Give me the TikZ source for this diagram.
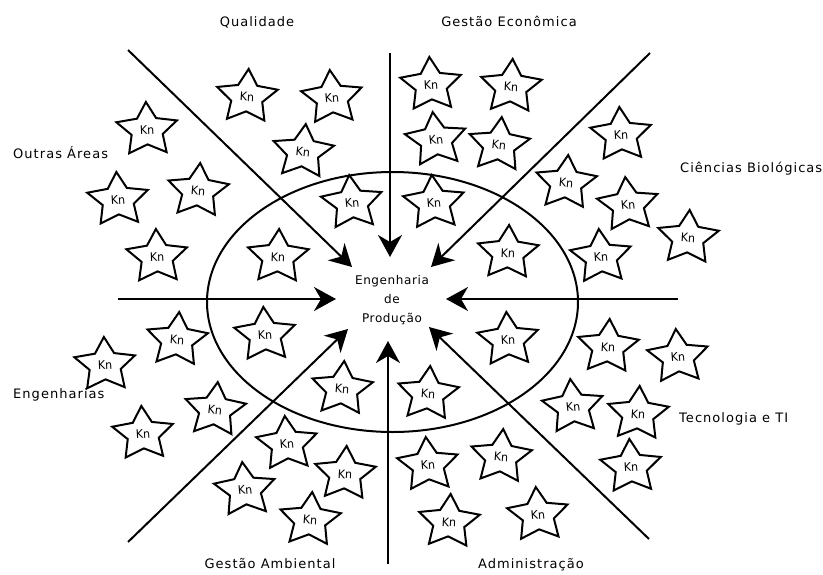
\documentclass[tikz,border=0pt]{standalone}
\usepackage{fontspec}
\setmainfont{DejaVu Sans}
\usetikzlibrary{arrows.meta,shapes.geometric}
\begin{document}
\begin{tikzpicture}[x=1pt,y=-1pt,
  kn/.style={draw,line width=2pt,shape=star,star points=5,star point ratio=1.95,
    minimum size=59pt,inner sep=0pt,xscale=1.08,yscale=0.95,
    font=\fontsize{12.5}{14}\selectfont\addfontfeature{FakeStretch=0.82}},
  lab/.style={font=\fontsize{13}{15}\selectfont\addfontfeature{LetterSpace=8},
    inner sep=0pt,text height=9.5pt,text depth=2.5pt},
  arr/.style={line width=2pt,-{Stealth[length=22pt,width=24pt,inset=7pt]}},
  ring/.style={draw,line width=2pt,shape=ellipse,inner sep=0pt}
]
\useasboundingbox (0,0) rectangle (823,574);

% central ellipse
\node[ring,minimum width=371pt,minimum height=260pt] (ring) at (392.5,302) {};

% centre text
\node[align=center,font=\fontsize{12}{19}\selectfont\addfontfeature{LetterSpace=5},inner sep=0pt] (ep) at (392,300) {Engenharia\\de\\Produção};

% area labels
\node[lab] (qual) at (257,23) {Qualidade};
\node[lab] (gecon) at (509,23) {Gestão Econômica};
\node[lab,anchor=west] (outras) at (13,155) {Outras Áreas};
\node[lab,anchor=west] (bio) at (680,169) {Ciências Biológicas};
\node[lab,anchor=west] (eng) at (13,395) {Engenharias};
\node[lab,anchor=west] (tec) at (679,419) {Tecnologia e TI};
\node[lab] (gamb) at (270,565) {Gestão Ambiental};
\node[lab] (adm) at (531,565) {Administração};

% arrow end points
\coordinate (a1s) at (128,50);  \coordinate (a1e) at (352,267);
\coordinate (a2s) at (390,53);  \coordinate (a2e) at (390,257);
\coordinate (a3s) at (650,53);  \coordinate (a3e) at (431,267);
\coordinate (a4s) at (118,299); \coordinate (a4e) at (336,299);
\coordinate (a5s) at (678,299); \coordinate (a5e) at (446,299);
\coordinate (a6s) at (128,542); \coordinate (a6e) at (348,329);
\coordinate (a7s) at (388,564); \coordinate (a7e) at (388,341);
\coordinate (a8s) at (649,539); \coordinate (a8e) at (429,327);
\foreach \i in {1,...,8} { \draw[arr] (a\i s) -- (a\i e); }

% knowledge stars
\node[kn,rotate=2]  (s1)  at (147,130) {Kn};
\node[kn,rotate=-3] (s2)  at (247,97)  {Kn};
\node[kn,rotate=4]  (s3)  at (332,98)  {Kn};
\node[kn,rotate=-5] (s4)  at (303,152) {Kn};
\node[kn,rotate=3]  (s5)  at (118,200) {Kn};
\node[kn,rotate=-4] (s6)  at (198,191) {Kn};
\node[kn,rotate=2]  (s7)  at (157,257) {Kn};
\node[kn,rotate=-2] (s8)  at (278,257) {Kn};
\node[kn,rotate=5]  (s9)  at (352,203) {Kn};
\node[kn,rotate=3]  (s10) at (431,85)  {Kn};
\node[kn,rotate=-3] (s11) at (511,87)  {Kn};
\node[kn,rotate=6]  (s12) at (436,140) {Kn};
\node[kn,rotate=-5] (s13) at (499,145) {Kn};
\node[kn,rotate=4]  (s14) at (434,203) {Kn};
\node[kn,rotate=-2] (s15) at (508,253) {Kn};
\node[kn,rotate=3]  (s16) at (621,135) {Kn};
\node[kn,rotate=-4] (s17) at (566,183) {Kn};
\node[kn,rotate=5]  (s18) at (628,205) {Kn};
\node[kn,rotate=-3] (s19) at (688,238) {Kn};
\node[kn,rotate=4]  (s20) at (601,257) {Kn};
\node[kn,rotate=-4] (s21) at (177,340) {Kn};
\node[kn,rotate=3]  (s22) at (265,335) {Kn};
\node[kn,rotate=2]  (s23) at (105,365) {Kn};
\node[kn,rotate=-5] (s24) at (215,410) {Kn};
\node[kn,rotate=3]  (s25) at (143,434) {Kn};
\node[kn,rotate=-4] (s26) at (342,389) {Kn};
\node[kn,rotate=4]  (s27) at (287,444) {Kn};
\node[kn,rotate=-3] (s28) at (345,474) {Kn};
\node[kn,rotate=5]  (s29) at (245,490) {Kn};
\node[kn,rotate=-4] (s30) at (310,520) {Kn};
\node[kn,rotate=3]  (s31) at (508,340) {Kn};
\node[kn,rotate=-3] (s32) at (608,347) {Kn};
\node[kn,rotate=4]  (s33) at (678,357) {Kn};
\node[kn,rotate=-4] (s34) at (428,394) {Kn};
\node[kn,rotate=5]  (s35) at (573,407) {Kn};
\node[kn,rotate=-3] (s36) at (638,414) {Kn};
\node[kn,rotate=4]  (s37) at (428,465) {Kn};
\node[kn,rotate=-4] (s38) at (501,457) {Kn};
\node[kn,rotate=3]  (s39) at (631,467) {Kn};
\node[kn,rotate=-3] (s40) at (449,522) {Kn};
\node[kn,rotate=4]  (s41) at (538,515) {Kn};
\end{tikzpicture}
\end{document}
